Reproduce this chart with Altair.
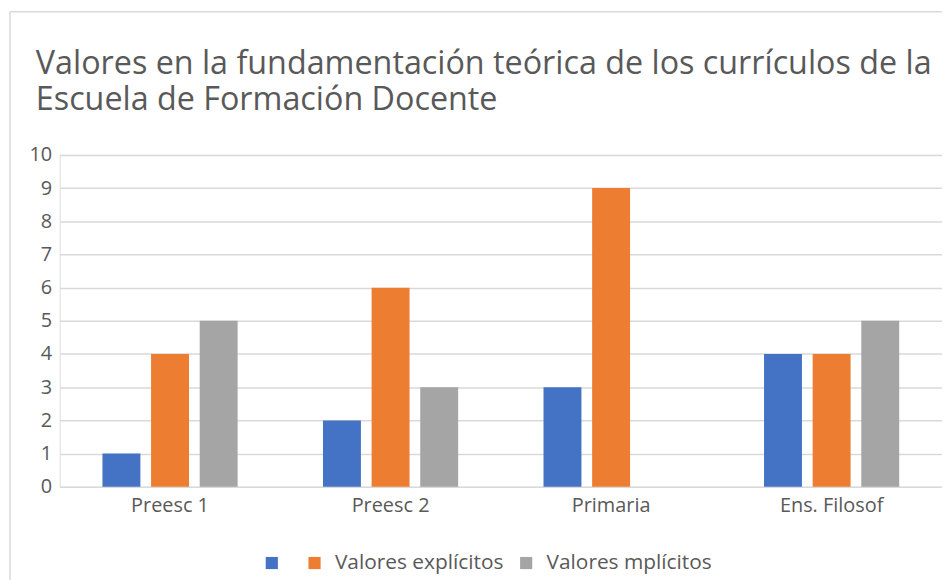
import altair as alt
import pandas as pd

categories = ["Preesc 1", "Preesc 2", "Primaria", "Ens. Filosof"]
series = [" ", "Valores explícitos", "Valores mplícitos"]
colors = ["#4472C4", "#ED7D31", "#A5A5A5"]
s1 = [1, 2, 3, 4]
s2 = [4, 6, 9, 4]
s3 = [5, 3, 0, 5]

rows = []
for i, c in enumerate(categories):
    for name, vals in zip(series, [s1, s2, s3]):
        rows.append({"cat": c, "serie": name, "valor": vals[i]})
df = pd.DataFrame(rows)

bars = alt.Chart(df).mark_bar().encode(
    x=alt.X("cat:N", sort=categories, title=None,
            scale=alt.Scale(paddingInner=0.387, paddingOuter=0.194),
            axis=alt.Axis(labelAngle=0, labelFontSize=20, labelColor="#595959",
                          labelFont="Open Sans", ticks=False, domain=False,
                          labelPadding=9)),
    xOffset=alt.XOffset("serie:N", sort=series,
                        scale=alt.Scale(paddingInner=0.22, paddingOuter=0)),
    y=alt.Y("valor:Q", title=None,
            scale=alt.Scale(domain=[0, 10], nice=False),
            axis=alt.Axis(values=list(range(0, 11)), labelFontSize=20,
                          labelColor="#595959", labelFont="Open Sans",
                          ticks=False, domain=False, labelPadding=8,
                          gridColor="#D9D9D9", gridWidth=1.5)),
    color=alt.Color("serie:N", sort=series,
                    scale=alt.Scale(domain=series, range=colors),
                    legend=alt.Legend(title=None, orient="none", direction="horizontal",
                                      legendX=203, legendY=400,
                                      symbolType="square", symbolSize=150,
                                      symbolStrokeWidth=0, labelFontSize=21,
                                      labelColor="#595959", labelFont="Open Sans",
                                      labelOffset=10, columnPadding=12,
                                      labelLimit=300)),
)

border_df = pd.DataFrame({"k": [0]})
vborder = alt.Chart(border_df).mark_rule(color="#D9D9D9", strokeWidth=1.5).encode(
    x=alt.value(-50), y=alt.value(-144), y2=alt.value(440))
hborder = alt.Chart(border_df).mark_rule(color="#D9D9D9", strokeWidth=1.5).encode(
    x=alt.value(-50), x2=alt.value(900), y=alt.value(-144))

chart = alt.layer(vborder, hborder, bars).properties(
    width=888, height=334,
    autosize=alt.AutoSizeParams(type="none"),
    padding={"left": 52, "top": 146, "right": 0, "bottom": 92},
    title=alt.TitleParams(
        ["Valores en la fundamentación teórica de los currículos de la",
         "Escuela de Formación Docente"],
        anchor="start", frame="group", dx=-24, dy=146, fontSize=32.5,
        font="Open Sans", fontWeight="normal", color="#595959",
        baseline="top", lineHeight=36, offset=40),
).configure_view(stroke=None).configure(background="white")

chart.save("out.html", embed_options={"renderer": "svg", "actions": False})
